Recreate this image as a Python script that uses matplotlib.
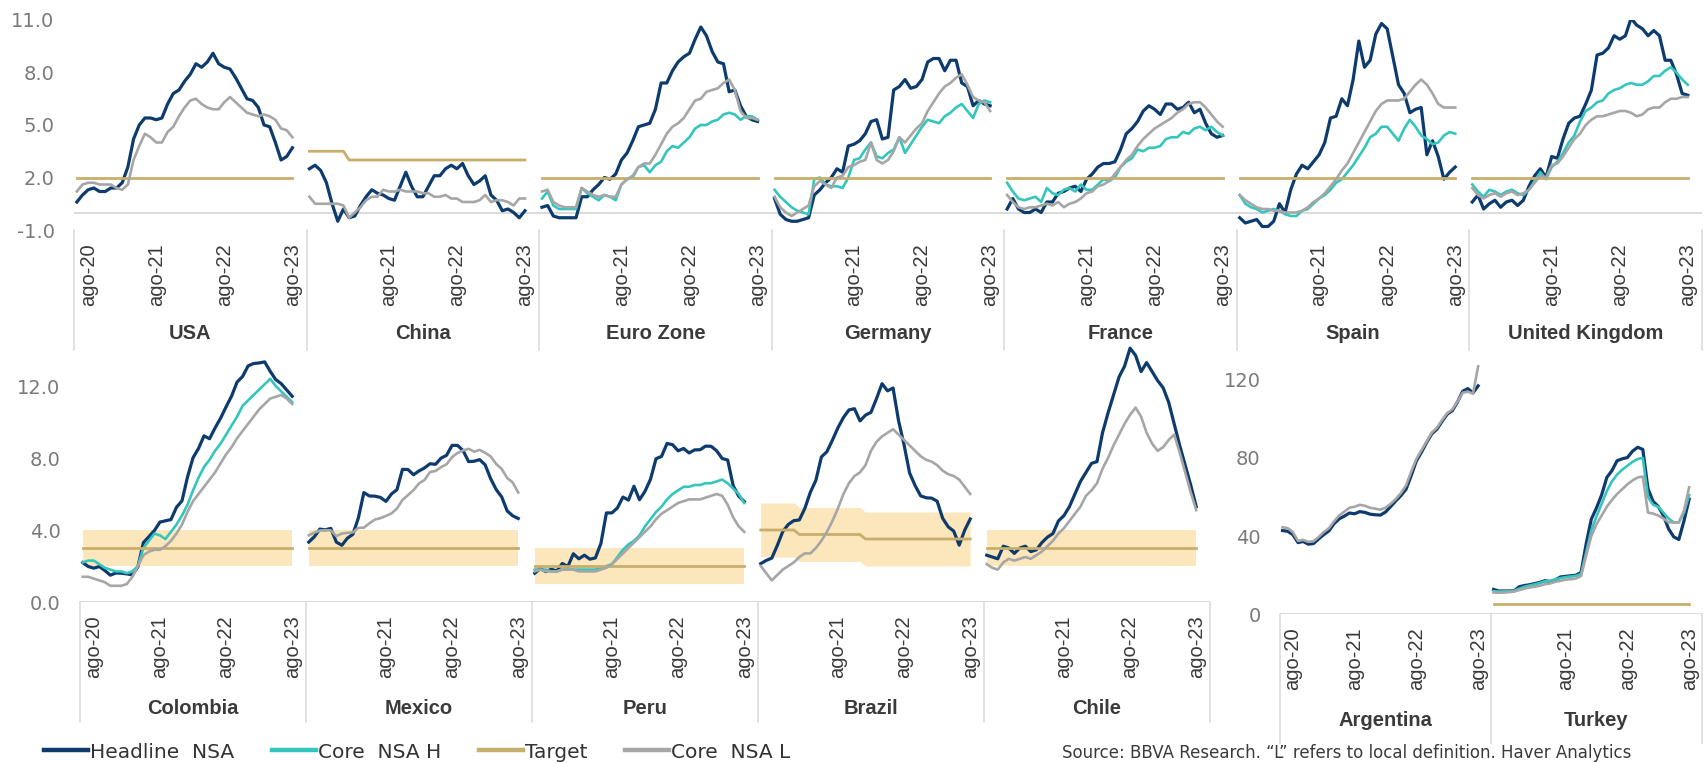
import numpy as np
import pandas as pd
import matplotlib.pyplot as plt
import matplotlib.transforms as mtransforms
from matplotlib.lines import Line2D

plt.rcParams['font.family'] = ['Liberation Sans', 'DejaVu Sans']

# months in every panel: jun-20 .. ago-23
months = pd.period_range('2020-06', '2023-08', freq='M')
n_months = len(months)
slot = 41  # category slots per panel (39 months + gap)

c_head = '#0d3b6e'
c_core_h = '#34c6bd'
c_target = '#c7ae6c'
c_core_l = '#a6a6a6'
c_band = '#fce6bb'
c_grid = '#d9d9d9'
c_text = '#3a3a3a'
c_ytick = '#7a7a7a'

# ---------------- top row ----------------
top_names = ['USA', 'China', 'Euro Zone', 'Germany', 'France', 'Spain', 'United Kingdom']

usa_head = [0.6, 1.0, 1.3, 1.4, 1.2, 1.2, 1.4,
            1.4, 1.7, 2.6, 4.2, 5.0, 5.4, 5.4, 5.3, 5.4, 6.2, 6.8, 7.0,
            7.5, 7.9, 8.5, 8.3, 8.6, 9.1, 8.5, 8.3, 8.2, 7.7, 7.1, 6.5,
            6.4, 6.0, 5.0, 4.9, 4.0, 3.0, 3.2, 3.7]
usa_core_l = [1.2, 1.6, 1.7, 1.7, 1.6, 1.6, 1.6,
              1.4, 1.3, 1.6, 3.0, 3.8, 4.5, 4.3, 4.0, 4.0, 4.6, 4.9, 5.5,
              6.0, 6.4, 6.5, 6.2, 6.0, 5.9, 5.9, 6.3, 6.6, 6.3, 6.0, 5.7,
              5.6, 5.5, 5.6, 5.5, 5.3, 4.8, 4.7, 4.3]
usa_target = [2.0] * 39

china_head = [2.5, 2.7, 2.4, 1.7, 0.5, -0.5, 0.2,
              -0.3, -0.2, 0.4, 0.9, 1.3, 1.1, 1.0, 0.8, 0.7, 1.5, 2.3, 1.5,
              0.9, 0.9, 1.5, 2.1, 2.1, 2.5, 2.7, 2.5, 2.8, 2.1, 1.6, 1.8,
              2.1, 1.0, 0.7, 0.1, 0.2, 0.0, -0.3, 0.1]
china_core_l = [0.9, 0.5, 0.5, 0.5, 0.5, 0.5, 0.4,
                -0.3, 0.0, 0.3, 0.7, 0.9, 0.9, 1.3, 1.2, 1.2, 1.3, 1.2, 1.2,
                1.2, 1.1, 1.1, 0.9, 0.9, 1.0, 0.8, 0.8, 0.6, 0.6, 0.6, 0.7,
                1.0, 0.6, 0.7, 0.7, 0.6, 0.4, 0.8, 0.8]
china_target = [3.5] * 7 + [3.0] * 32

ez_head = [0.3, 0.4, -0.2, -0.3, -0.3, -0.3, -0.3,
           0.9, 0.9, 1.3, 1.6, 2.0, 1.9, 2.2, 3.0, 3.4, 4.1, 4.9, 5.0,
           5.1, 5.9, 7.4, 7.4, 8.1, 8.6, 8.9, 9.1, 9.9, 10.6, 10.1, 9.2,
           8.6, 8.5, 6.9, 7.0, 6.1, 5.5, 5.3, 5.2]
ez_core_h = [0.8, 1.2, 0.4, 0.2, 0.2, 0.2, 0.2,
             1.4, 1.1, 0.9, 0.7, 1.0, 0.9, 0.7, 1.6, 1.9, 2.0, 2.6, 2.7,
             2.3, 2.7, 2.9, 3.5, 3.8, 3.7, 4.0, 4.3, 4.8, 5.0, 5.0, 5.2,
             5.3, 5.6, 5.7, 5.6, 5.3, 5.5, 5.5, 5.3]
ez_core_l = [1.2, 1.3, 0.6, 0.4, 0.3, 0.3, 0.3,
             1.4, 1.2, 1.0, 0.9, 1.0, 0.9, 0.9, 1.6, 1.9, 2.1, 2.6, 2.8,
             2.8, 3.3, 3.9, 4.5, 4.9, 5.1, 5.4, 5.9, 6.4, 6.5, 6.9, 7.0,
             7.1, 7.4, 7.6, 7.0, 5.8, 5.4, 5.4, 5.3]
ez_target = [2.0] * 39

de_head = [0.8, -0.1, -0.4, -0.5, -0.5, -0.4, -0.3,
           1.0, 1.3, 1.7, 2.0, 2.5, 2.3, 3.8, 3.9, 4.1, 4.5, 5.2, 5.3,
           4.2, 4.3, 7.0, 7.2, 7.6, 7.1, 7.2, 7.6, 8.6, 8.8, 8.8, 8.1,
           8.7, 8.7, 7.4, 7.2, 6.1, 6.4, 6.2, 6.1]
de_core_h = [1.3, 0.9, 0.6, 0.3, 0.1, 0.0, -0.1,
             1.9, 2.0, 1.6, 1.5, 1.5, 1.4, 2.0, 3.0, 3.1, 3.6, 4.0, 3.2,
             3.1, 3.4, 3.6, 4.3, 3.4, 3.9, 4.4, 4.9, 5.3, 5.2, 5.1, 5.5,
             5.7, 6.0, 6.2, 5.8, 5.4, 6.2, 6.4, 6.3]
de_core_l = [0.9, 0.3, 0.0, -0.2, 0.0, 0.2, 0.4,
             1.5, 1.8, 1.6, 1.4, 2.0, 2.1, 2.6, 2.7, 2.9, 3.0, 4.0, 3.0,
             2.8, 3.0, 3.5, 4.3, 4.0, 4.4, 4.8, 5.1, 5.8, 6.3, 6.8, 7.2,
             7.4, 7.7, 7.9, 7.3, 6.6, 6.4, 6.3, 5.8]
de_target = [2.0] * 39

fr_head = [0.2, 0.8, 0.2, 0.0, 0.0, 0.2, 0.0,
           0.6, 0.6, 1.1, 1.2, 1.4, 1.5, 1.2, 1.9, 2.2, 2.6, 2.8, 2.8,
           2.9, 3.6, 4.5, 4.8, 5.2, 5.8, 6.1, 5.9, 5.6, 6.2, 6.2, 5.9,
           6.0, 6.3, 5.7, 5.9, 5.1, 4.5, 4.3, 4.4]
fr_core_h = [1.7, 1.2, 0.8, 0.7, 0.8, 0.9, 0.6,
             1.4, 1.1, 1.0, 1.3, 1.4, 1.2, 1.6, 1.3, 1.3, 1.6, 1.9, 1.8,
             2.0, 2.6, 2.9, 3.1, 3.6, 3.5, 3.7, 3.7, 3.8, 4.2, 4.3, 4.3,
             4.6, 4.5, 4.8, 4.9, 4.7, 4.9, 4.6, 4.4]
fr_core_l = [1.0, 0.6, 0.3, 0.2, 0.3, 0.3, 0.4,
             0.5, 0.4, 0.6, 0.3, 0.5, 0.6, 0.8, 1.1, 1.2, 1.5, 1.6, 1.8,
             2.2, 2.6, 3.0, 3.3, 3.8, 4.2, 4.5, 4.8, 5.0, 5.2, 5.4, 5.7,
             5.9, 6.2, 6.3, 6.3, 6.0, 5.6, 5.2, 4.9]
fr_target = [2.0] * 39

es_head = [-0.3, -0.6, -0.5, -0.4, -0.8, -0.8, -0.5,
           0.5, 0.0, 1.3, 2.2, 2.7, 2.5, 2.9, 3.3, 4.0, 5.4, 5.5, 6.5,
           6.1, 7.6, 9.8, 8.3, 8.7, 10.2, 10.8, 10.5, 8.9, 7.3, 6.8, 5.7,
           5.9, 6.0, 3.3, 4.1, 3.2, 1.9, 2.3, 2.6]
es_core_h = [1.0, 0.5, 0.3, 0.2, 0.0, 0.1, 0.2,
             0.1, -0.1, -0.2, -0.2, 0.1, 0.2, 0.5, 0.8, 1.0, 1.3, 1.7, 1.9,
             2.3, 2.7, 3.2, 3.7, 4.3, 4.5, 4.9, 4.9, 4.5, 4.1, 4.8, 5.3,
             4.9, 4.4, 4.2, 3.9, 4.0, 4.4, 4.6, 4.5]
es_core_l = [1.0, 0.7, 0.5, 0.3, 0.2, 0.2, 0.1,
             0.1, 0.0, 0.0, 0.0, 0.1, 0.3, 0.6, 0.8, 1.1, 1.5, 1.9, 2.4,
             2.8, 3.4, 4.0, 4.6, 5.2, 5.8, 6.2, 6.4, 6.4, 6.4, 6.5, 6.9,
             7.3, 7.6, 7.3, 6.8, 6.2, 6.0, 6.0, 6.0]
es_target = [2.0] * 39

uk_head = [0.6, 1.0, 0.2, 0.5, 0.7, 0.3, 0.6,
           0.7, 0.4, 0.7, 1.5, 2.1, 2.5, 2.0, 3.2, 3.1, 4.2, 5.1, 5.4,
           5.5, 6.2, 7.0, 9.0, 9.1, 9.4, 10.1, 9.9, 10.1, 11.1, 10.7, 10.5,
           10.1, 10.4, 10.1, 8.7, 8.7, 7.9, 6.8, 6.7]
uk_core_h = [1.6, 1.2, 0.9, 1.3, 1.2, 1.0, 1.2,
             1.3, 1.1, 1.0, 1.3, 1.8, 2.3, 1.9, 2.6, 2.9, 3.4, 4.0, 4.4,
             5.2, 5.8, 6.0, 6.3, 6.4, 6.8, 7.0, 7.1, 7.3, 7.4, 7.3, 7.3,
             7.5, 7.8, 7.8, 8.1, 8.3, 8.0, 7.6, 7.3]
uk_core_l = [1.4, 1.0, 0.8, 1.0, 1.1, 0.9, 1.1,
             1.2, 1.0, 1.1, 1.3, 1.7, 2.1, 2.0, 2.7, 2.8, 3.2, 3.7, 4.2,
             4.5, 5.0, 5.3, 5.5, 5.5, 5.6, 5.7, 5.8, 5.8, 5.7, 5.5, 5.6,
             5.9, 6.0, 6.0, 6.3, 6.5, 6.5, 6.6, 6.6]
uk_target = [2.0] * 39

# ---------------- bottom row (LatAm) ----------------
latam_names = ['Colombia', 'Mexico', 'Peru', 'Brazil', 'Chile']

co_head = [2.19, 1.97, 1.88, 1.97, 1.75, 1.49, 1.61,
           1.60, 1.56, 1.51, 1.95, 3.30, 3.63, 3.97, 4.44, 4.51, 4.58, 5.26, 5.62,
           6.94, 8.01, 8.53, 9.23, 9.07, 9.67, 10.21, 10.84, 11.44, 12.22, 12.53, 13.12,
           13.25, 13.28, 13.34, 12.82, 12.36, 12.13, 11.78, 11.43]
co_core_h = [2.2, 2.3, 2.3, 2.1, 1.9, 1.8, 1.7,
             1.7, 1.6, 1.7, 2.0, 3.0, 3.4, 3.8, 3.7, 3.5, 3.9, 4.3, 4.8,
             5.4, 6.2, 6.9, 7.5, 7.9, 8.4, 8.8, 9.3, 9.8, 10.3, 10.9, 11.2,
             11.5, 11.8, 12.1, 12.4, 12.0, 11.7, 11.4, 11.1]
co_core_l = [1.4, 1.4, 1.3, 1.2, 1.1, 0.9, 0.9,
             0.9, 1.0, 1.4, 2.0, 2.6, 2.8, 2.9, 2.9, 3.1, 3.4, 3.8, 4.3,
             5.0, 5.6, 6.0, 6.4, 6.8, 7.2, 7.7, 8.2, 8.6, 9.1, 9.5, 9.9,
             10.3, 10.7, 11.0, 11.3, 11.4, 11.5, 11.3, 11.0]
co_target = [3.0] * 39
co_band = 1.0

mx_head = [3.33, 3.62, 4.05, 4.01, 4.09, 3.33, 3.15,
           3.54, 3.76, 4.67, 6.08, 5.89, 5.88, 5.81, 5.59, 6.00, 6.24, 7.37, 7.36,
           7.07, 7.28, 7.45, 7.68, 7.65, 7.99, 8.15, 8.70, 8.70, 8.41, 7.80, 7.82,
           7.91, 7.62, 6.85, 6.25, 5.84, 5.06, 4.79, 4.64]
mx_core_l = [3.71, 3.85, 3.97, 3.99, 3.98, 3.66, 3.80,
             3.84, 3.87, 4.12, 4.13, 4.37, 4.58, 4.66, 4.78, 4.92, 5.19, 5.67, 5.94,
             6.21, 6.59, 6.78, 7.22, 7.28, 7.49, 7.65, 8.05, 8.28, 8.42, 8.51, 8.35,
             8.45, 8.29, 8.09, 7.67, 7.39, 6.89, 6.64, 6.08]
mx_target = [3.0] * 39
mx_band = 1.0

pe_head = [1.60, 1.86, 1.69, 1.82, 1.72, 2.14, 1.97,
           2.68, 2.40, 2.60, 2.38, 2.45, 3.25, 4.95, 4.95, 5.23, 5.83, 5.66, 6.43,
           5.68, 6.15, 6.82, 7.96, 8.09, 8.81, 8.74, 8.40, 8.53, 8.28, 8.45, 8.46,
           8.66, 8.65, 8.40, 7.97, 7.89, 6.46, 5.88, 5.58]
pe_core_h = [1.8, 1.8, 1.8, 1.7, 1.7, 1.8, 1.8,
             1.8, 1.8, 1.8, 1.8, 1.8, 1.9, 2.0, 2.1, 2.5, 2.9, 3.2, 3.4,
             3.7, 4.2, 4.6, 5.0, 5.3, 5.7, 6.0, 6.2, 6.4, 6.4, 6.5, 6.5,
             6.6, 6.6, 6.7, 6.8, 6.6, 6.3, 6.0, 5.5]
pe_core_l = [1.7, 1.8, 1.7, 1.7, 1.7, 1.8, 1.8,
             1.8, 1.7, 1.7, 1.7, 1.7, 1.8, 1.9, 2.1, 2.4, 2.7, 3.0, 3.3,
             3.6, 3.9, 4.2, 4.6, 4.9, 5.1, 5.3, 5.5, 5.6, 5.7, 5.7, 5.7,
             5.8, 5.9, 6.0, 5.9, 5.4, 4.7, 4.2, 3.9]
pe_target = [2.0] * 39
pe_band = 1.0

br_head = [2.13, 2.31, 2.44, 3.14, 3.92, 4.31, 4.52,
           4.56, 5.20, 6.10, 6.76, 8.06, 8.35, 8.99, 9.68, 10.25, 10.67, 10.74, 10.06,
           10.38, 10.54, 11.30, 12.13, 11.73, 11.89, 10.07, 8.73, 7.17, 6.47, 5.90, 5.79,
           5.77, 5.60, 4.65, 4.18, 3.94, 3.16, 3.99, 4.61]
br_core_l = [2.0, 1.6, 1.2, 1.5, 1.8, 2.0, 2.2,
             2.5, 2.7, 2.7, 3.0, 3.4, 3.9, 4.5, 5.2, 6.0, 6.6, 7.0, 7.2,
             7.6, 8.4, 8.9, 9.2, 9.4, 9.6, 9.3, 9.0, 8.7, 8.4, 8.1, 7.9,
             7.8, 7.6, 7.3, 7.1, 7.0, 6.8, 6.4, 6.0]
br_target = [4.0] * 7 + [3.75] * 12 + [3.5] * 20
br_band = 1.5

cl_head = [2.6, 2.5, 2.4, 3.1, 3.0, 2.7, 3.0,
           3.1, 2.8, 2.9, 3.3, 3.6, 3.8, 4.5, 4.8, 5.3, 6.0, 6.7, 7.2,
           7.7, 7.8, 9.4, 10.5, 11.5, 12.5, 13.1, 14.1, 13.7, 12.8, 13.3, 12.8,
           12.3, 11.9, 11.1, 9.9, 8.7, 7.6, 6.5, 5.3]
cl_core_l = [2.1, 1.9, 1.8, 2.2, 2.4, 2.3, 2.4,
             2.5, 2.4, 2.6, 2.8, 3.1, 3.4, 3.8, 4.1, 4.5, 4.9, 5.3, 5.9,
             6.2, 6.6, 7.4, 8.0, 8.7, 9.3, 9.9, 10.4, 10.8, 10.3, 9.4, 8.8,
             8.4, 8.6, 9.0, 9.3, 8.3, 7.2, 6.1, 5.1]
cl_target = [3.0] * 39
cl_band = 1.0

# ---------------- high inflation ----------------
hi_names = ['Argentina', 'Turkey']

ar_head = [42.8, 42.4, 40.7, 36.6, 37.2, 35.8, 36.1,
           38.5, 40.7, 42.6, 46.3, 48.8, 50.2, 51.8, 51.4, 52.5, 52.1, 51.2, 50.9,
           50.7, 52.3, 55.1, 58.0, 60.7, 64.0, 71.0, 78.5, 83.0, 88.0, 92.4, 94.8,
           98.8, 102.5, 104.3, 108.8, 114.2, 115.6, 113.4, 117.0]
ar_core_l = [44.5, 44.0, 42.0, 37.5, 38.0, 37.0, 37.3,
             39.5, 42.0, 44.0, 47.5, 50.5, 52.5, 54.5, 55.0, 56.0, 55.5, 54.5, 54.0,
             53.5, 54.5, 56.5, 59.0, 62.0, 66.0, 73.0, 79.5, 84.0, 88.5, 93.0, 95.5,
             99.5, 103.0, 105.0, 109.0, 113.5, 114.0, 113.0, 127.0]

tr_head = [12.6, 11.8, 11.8, 11.8, 11.9, 14.0, 14.6,
           15.0, 15.6, 16.2, 17.1, 16.6, 17.5, 19.0, 19.3, 19.6, 19.9, 21.3, 36.1,
           48.7, 54.4, 61.1, 70.0, 73.5, 78.6, 79.6, 80.2, 83.5, 85.5, 84.4, 64.3,
           57.7, 55.2, 50.5, 43.7, 39.6, 38.2, 47.8, 58.9]
tr_core_h = [11.7, 11.5, 11.6, 11.6, 11.9, 13.0, 14.0,
             14.6, 15.2, 15.9, 16.8, 17.0, 17.8, 18.4, 18.9, 19.2, 19.6, 20.5, 31.5,
             43.0, 50.0, 56.5, 63.0, 68.0, 71.5, 74.0, 76.0, 78.0, 79.5, 80.0, 60.0,
             56.0, 55.0, 52.0, 49.0, 47.0, 47.0, 52.0, 61.0]
tr_core_l = [11.0, 10.9, 11.0, 11.2, 11.5, 12.3, 13.0,
             13.6, 14.0, 14.5, 15.3, 15.7, 16.5, 17.0, 17.6, 17.8, 18.2, 19.5, 30.0,
             40.0, 46.0, 50.5, 55.0, 58.5, 61.5, 64.0, 66.5, 68.5, 70.0, 70.5, 52.0,
             51.5, 50.5, 49.0, 47.0, 47.0, 47.0, 53.0, 65.0]
tr_target = [5.0] * 39


def draw_panel(ax, k, head=None, core_h=None, core_l=None, target=None, band=None):
    xs = k * slot + np.arange(n_months) + 0.5
    if band is not None:
        t = np.array(target)
        ax.fill_between(xs, t - band, t + band, color=c_band, lw=0, zorder=1)
    if head is not None:
        ax.plot(xs, head, color=c_head, lw=2.3, zorder=3, solid_joinstyle='round')
    if core_h is not None:
        ax.plot(xs, core_h, color=c_core_h, lw=1.9, zorder=4, solid_joinstyle='round')
    if target is not None:
        ax.plot(xs, target, color=c_target, lw=2.0, zorder=5)
    if core_l is not None:
        ax.plot(xs, core_l, color=c_core_l, lw=1.9, zorder=6, solid_joinstyle='round')


def dress_row(ax, names, ylim, yticks, yfmt, sep_depth, label_y):
    n = len(names)
    ax.set_xlim(0, n * slot)
    ax.set_ylim(*ylim)
    ax.patch.set_visible(False)
    for s in ax.spines.values():
        s.set_visible(False)
    ax.axhline(0, color=c_grid, lw=1.3, zorder=0)
    # ago-yy ticks, first panel also gets ago-20
    ago_idx = [i for i, m in enumerate(months) if m.month == 8]
    pos, labs = [], []
    for k in range(n):
        for i in ago_idx:
            if k > 0 and months[i].year == 2020:
                continue
            pos.append(k * slot + i + 0.5)
            labs.append('ago-' + str(months[i].year)[2:])
    ax.set_xticks(pos)
    ax.set_xticklabels(labs, rotation=90, fontsize=14.5, color=c_text,
                       family='Liberation Sans')
    ax.tick_params(axis='x', length=0, pad=9.5)
    ax.set_yticks(yticks)
    ax.set_yticklabels([yfmt.format(v) for v in yticks], fontsize=14, color=c_ytick,
                       family='DejaVu Sans')
    ax.tick_params(axis='y', length=0, pad=14)
    trans = mtransforms.blended_transform_factory(ax.transData, ax.transAxes)
    for k in range(n + 1):
        ax.plot([k * slot, k * slot], [0, -sep_depth], transform=trans,
                color=c_grid, lw=1.1, clip_on=False)
    for k, name in enumerate(names):
        ax.text(k * slot + slot / 2, label_y, name, transform=trans, ha='center',
                va='center', fontsize=14.5, fontweight='bold', color=c_text)


W, H = 1706, 763
fig = plt.figure(figsize=(W / 100, H / 100), dpi=100)


def px_axes(x0, x1, y_top, y_bot):
    return fig.add_axes([x0 / W, 1 - y_bot / H, (x1 - x0) / W, (y_bot - y_top) / H])


# top row: -1 at 230px, 11 at 20px
ax1 = px_axes(74, 1702, 20, 230)
draw_panel(ax1, 0, head=usa_head, core_l=usa_core_l, target=usa_target)
draw_panel(ax1, 1, head=china_head, core_l=china_core_l, target=china_target)
draw_panel(ax1, 2, head=ez_head, core_h=ez_core_h, core_l=ez_core_l, target=ez_target)
draw_panel(ax1, 3, head=de_head, core_h=de_core_h, core_l=de_core_l, target=de_target)
draw_panel(ax1, 4, head=fr_head, core_h=fr_core_h, core_l=fr_core_l, target=fr_target)
draw_panel(ax1, 5, head=es_head, core_h=es_core_h, core_l=es_core_l, target=es_target)
draw_panel(ax1, 6, head=uk_head, core_h=uk_core_h, core_l=uk_core_l, target=uk_target)
dress_row(ax1, top_names, (-1, 11), [-1, 2, 5, 8, 11], '{:.1f}', 120 / 210, -103 / 210)

# LatAm row: 0 at 602px, 18px per point
ax2 = px_axes(80, 1210, 602 - 15 * 18, 602)
draw_panel(ax2, 0, head=co_head, core_h=co_core_h, core_l=co_core_l, target=co_target, band=co_band)
draw_panel(ax2, 1, head=mx_head, core_l=mx_core_l, target=mx_target, band=mx_band)
draw_panel(ax2, 2, head=pe_head, core_h=pe_core_h, core_l=pe_core_l, target=pe_target, band=pe_band)
draw_panel(ax2, 3, head=br_head, core_l=br_core_l, target=br_target, band=br_band)
draw_panel(ax2, 4, head=cl_head, core_l=cl_core_l, target=cl_target, band=cl_band)
dress_row(ax2, latam_names, (0, 15), [0, 4, 8, 12], '{:.1f}', 120 / 270, -106 / 270)

# Argentina / Turkey: 0 at 614px, 1.95px per point
ax3 = px_axes(1280, 1702, 614 - 130 * 1.95, 614)
draw_panel(ax3, 0, head=ar_head, core_l=ar_core_l)
draw_panel(ax3, 1, head=tr_head, core_h=tr_core_h, core_l=tr_core_l, target=tr_target)
dress_row(ax3, hi_names, (0, 130), [0, 40, 80, 120], '{:.0f}', 129 / 253.5, -106 / 253.5)

handles = [Line2D([], [], color=c_head, lw=3.2),
           Line2D([], [], color=c_core_h, lw=3.2),
           Line2D([], [], color=c_target, lw=3.2),
           Line2D([], [], color=c_core_l, lw=3.2)]
labels = ['Headline  NSA', 'Core  NSA H', 'Target', 'Core  NSA L']
fig.legend(handles, labels, ncol=4, loc='center left', bbox_to_anchor=(44 / W, 1 - 752 / H),
           frameon=False, handlelength=2.2, handletextpad=0.1,
           columnspacing=1.85, borderpad=0, borderaxespad=0,
           prop={'family': 'DejaVu Sans', 'size': 14.5}, labelcolor='#333333')

# source note sits on the bottom edge
fig.text(1062 / W, 1 - 758 / H,
         'Source: BBVA Research. \u201cL\u201d refers to local definition. Haver Analytics',
         fontsize=12, color=c_text, family='DejaVu Sans', va='baseline')

fig.savefig('out.png', dpi=100)
